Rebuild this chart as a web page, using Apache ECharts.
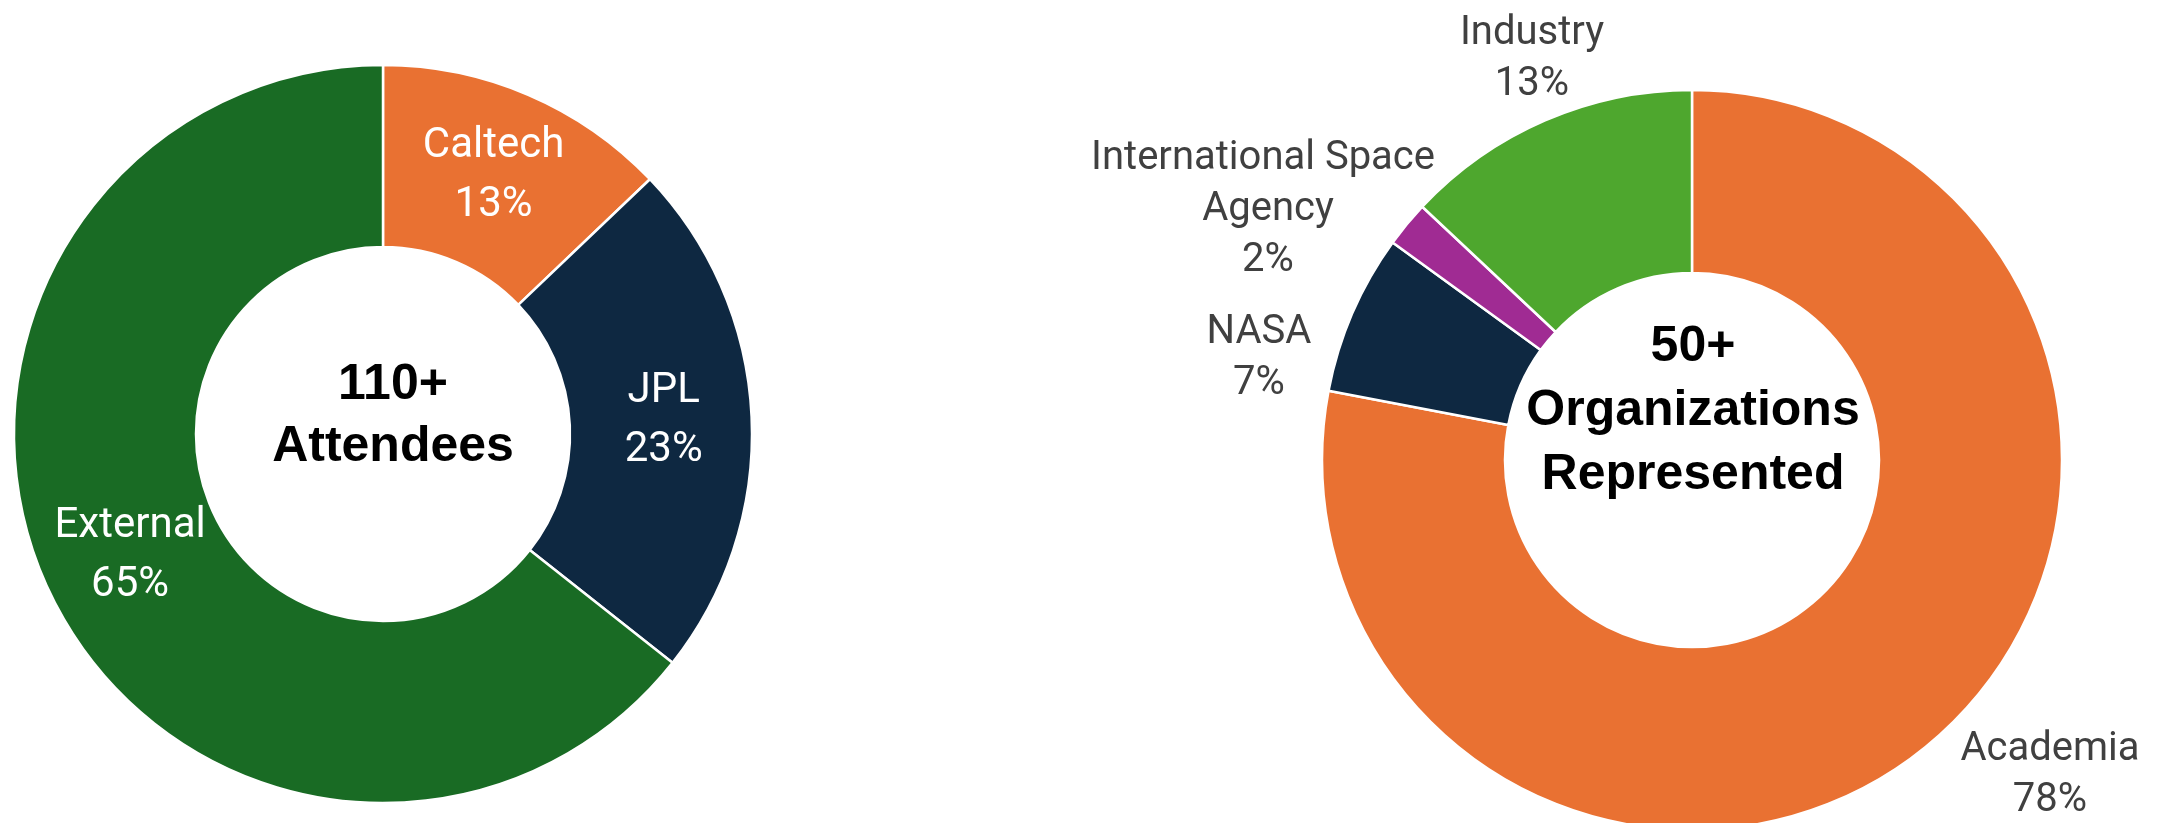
<!DOCTYPE html>
<html>
<head>
<meta charset="utf-8">
<script src="https://cdn.jsdelivr.net/npm/echarts@6/dist/echarts.min.js"></script>
<style>
html,body{margin:0;padding:0;background:#fff;}
#chart{width:2163px;height:823px;}
</style>
</head>
<body>
<div id="chart"></div>
<script>
// Attendees donut
const attendeeNames = ['Caltech', 'JPL', 'External'];
const attendeeValues = [13, 23, 65];
const attendeeColors = ['#E97132', '#0E2841', '#196B24'];
const attendeeCenterText = ['110+', 'Attendees'];

// Organizations donut
const orgNames = ['Academia', 'NASA', 'International Space Agency', 'Industry'];
const orgValues = [78, 7, 2, 13];
const orgColors = ['#E97132', '#0E2841', '#A02B93', '#4EA72E'];
const orgCenterText = ['50+', 'Organizations', 'Represented'];

// label anchor positions for the outside labels (pixels)
const orgLabelPos = [[2050, 775], [1259, 358], [1268, 210], [1532, 59]];

const chart = echarts.init(document.getElementById('chart'), null, {renderer: 'canvas'});

const labelFont = 'Roboto, "Liberation Sans", sans-serif';
const boldFont = '"Liberation Sans", Arial, sans-serif';

chart.setOption({
  animation: false,
  backgroundColor: '#ffffff',
  series: [
    {
      type: 'pie',
      center: [383, 434],
      radius: [187, 369],
      startAngle: 90,
      clockwise: true,
      avoidLabelOverlap: false,
      emphasis: {disabled: true},
      itemStyle: {borderColor: '#ffffff', borderWidth: 2.5},
      label: {
        show: true,
        position: 'inside',
        formatter: '{b}\n{c}%',
        color: '#ffffff',
        fontFamily: labelFont,
        fontSize: 42,
        lineHeight: 59,
        align: 'center'
      },
      labelLine: {show: false},
      data: attendeeNames.map((n, i) => ({name: n, value: attendeeValues[i], itemStyle: {color: attendeeColors[i]}}))
    },
    {
      type: 'pie',
      center: [1692, 460],
      radius: [187, 370],
      startAngle: 90,
      clockwise: true,
      avoidLabelOverlap: false,
      emphasis: {disabled: true},
      itemStyle: {borderColor: '#ffffff', borderWidth: 2.5},
      label: {
        show: true,
        position: 'outside',
        formatter: '{b}\n{c}%',
        color: '#404040',
        fontFamily: labelFont,
        fontSize: 40,
        lineHeight: 51,
        width: 380,
        overflow: 'break',
        align: 'center'
      },
      labelLine: {show: false},
      labelLayout: function (params) {
        const p = orgLabelPos[params.dataIndex];
        return {x: p[0], y: p[1], align: 'center', verticalAlign: 'middle'};
      },
      data: orgNames.map((n, i) => ({name: n, value: orgValues[i], itemStyle: {color: orgColors[i]}}))
    }
  ],
  graphic: [
    {
      type: 'text',
      x: 393, y: 416,
      style: {
        text: attendeeCenterText.join('\n'),
        font: 'bold 50px ' + boldFont,
        fill: '#000000',
        align: 'center',
        verticalAlign: 'middle',
        lineHeight: 62
      }
    },
    {
      type: 'text',
      x: 1693, y: 411,
      style: {
        text: orgCenterText.join('\n'),
        font: 'bold 50px ' + boldFont,
        fill: '#000000',
        align: 'center',
        verticalAlign: 'middle',
        lineHeight: 64
      }
    }
  ]
});
</script>
</body>
</html>
